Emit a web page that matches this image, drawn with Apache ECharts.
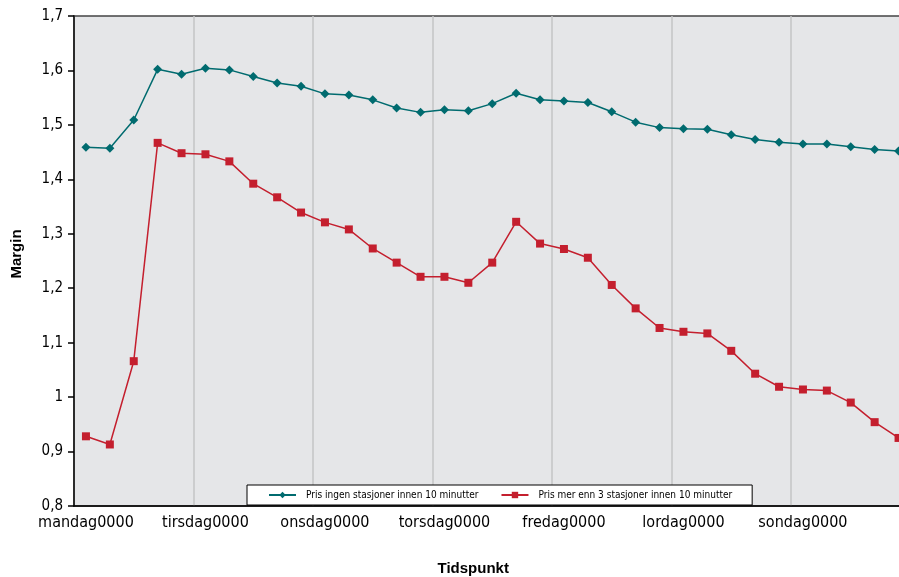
<!DOCTYPE html>
<html>
<head>
<meta charset="utf-8">
<script src="https://cdn.jsdelivr.net/npm/echarts@6/dist/echarts.min.js"></script>
<style>
html,body{margin:0;padding:0;background:#fff;}
#c{width:899px;height:577px;}
</style>
</head>
<body>
<div id="c"></div>
<script>
const days = ["mandag","tirsdag","onsdag","torsdag","fredag","lordag","sondag"];
const slots = ["0000","0445","0930","1415","1900"];
const categories = [];
days.forEach(d => slots.forEach(s => categories.push(d + s)));

const seriesNames = ["Pris ingen stasjoner innen 10 minutter", "Pris mer enn 3 stasjoner innen 10 minutter"];

const ingen = [1.459,1.457,1.509,1.602,1.593,1.604,1.601,1.589,1.577,1.571,
               1.557,1.555,1.546,1.531,1.523,1.528,1.526,1.539,1.558,1.546,
               1.544,1.541,1.524,1.505,1.495,1.493,1.492,1.482,1.473,1.468,
               1.465,1.465,1.460,1.455,1.452];
const merEnn3 = [0.928,0.913,1.066,1.467,1.448,1.446,1.433,1.392,1.367,1.339,
                 1.321,1.308,1.273,1.247,1.221,1.221,1.210,1.247,1.322,1.282,
                 1.272,1.256,1.206,1.163,1.127,1.120,1.117,1.085,1.043,1.019,
                 1.014,1.012,0.990,0.954,0.925];

const FONT = "'Liberation Sans Narrow','DejaVu Sans Condensed','Noto Sans',sans-serif";
const BOLD = "'Liberation Sans','Arial',sans-serif";
const chart = echarts.init(document.getElementById('c'), null, {renderer:'canvas'});
chart.setOption({
  animation:false,
  backgroundColor:'#ffffff',
  grid:{left:74, top:16, width:836.5, height:490, show:true, backgroundColor:'#e5e6e8',
        borderColor:'#444444', borderWidth:1.5, containLabel:false, outerBoundsMode:'none'},
  legend:{
    left:247, top:485,
    backgroundColor:'#ffffff', borderColor:'#000000', borderWidth:1,
    padding:[5,20,5,21], itemGap:22, itemWidth:27, itemHeight:8,
    textStyle:{fontFamily:FONT, fontSize:10, color:'#000', padding:[0,0,0,5]},
    data:seriesNames
  },
  xAxis:{
    type:'category', data:categories, boundaryGap:true,
    name:'Tidspunkt', nameLocation:'middle', nameGap:55,
    nameTextStyle:{fontFamily:BOLD, fontWeight:'bold', fontSize:15, color:'#000', padding:[0,38,0,0]},
    axisLine:{lineStyle:{color:'#000', width:1.5}},
    axisTick:{interval:4, length:5, lineStyle:{color:'#000', width:1.5}},
    axisLabel:{interval:4, margin:9, fontFamily:FONT, fontSize:16, color:'#000'},
    splitLine:{show:true, interval:4, lineStyle:{color:'#c3c4c6', width:1.5}}
  },
  yAxis:{
    type:'value', min:0.8, max:1.7, interval:0.1,
    name:'Margin', nameLocation:'middle', nameGap:50, nameRotate:90,
    nameTextStyle:{fontFamily:BOLD, fontWeight:'bold', fontSize:15, color:'#000', padding:[0,0,0,14]},
    axisLine:{show:true, lineStyle:{color:'#000', width:1.5}},
    axisTick:{show:true, length:6, lineStyle:{color:'#000', width:1.5}},
    axisLabel:{margin:11, fontFamily:FONT, fontSize:15, color:'#000',
      formatter:v => (Math.round(v*10)/10).toString().replace('.', ',')},
    splitLine:{show:false}
  },
  series:[
    {name:seriesNames[0], type:'line', data:ingen, symbol:'diamond', symbolSize:9,
     itemStyle:{color:'#006b6f'}, lineStyle:{color:'#006b6f', width:1.5}},
    {name:seriesNames[1], type:'line', data:merEnn3, symbol:'rect', symbolSize:8,
     itemStyle:{color:'#c41f2e'}, lineStyle:{color:'#c41f2e', width:1.5}}
  ]
});
</script>
</body>
</html>
